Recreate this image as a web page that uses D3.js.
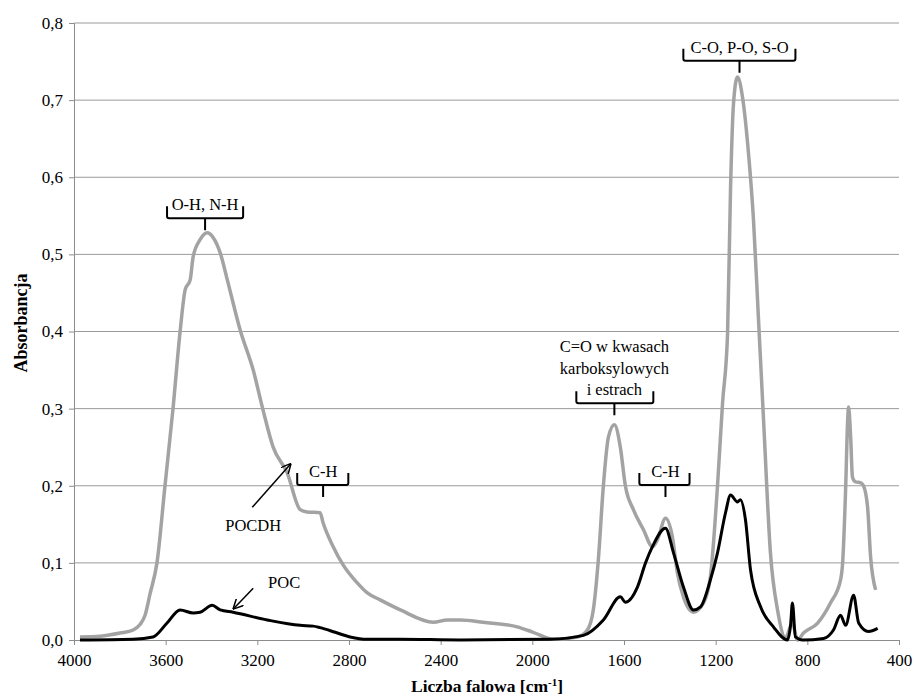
<!doctype html>
<html lang="pl">

<head>
  <meta charset="utf-8">
  <style>
    body { margin: 0; background: #fff; }
    svg text { font-family: "Liberation Serif", "Times New Roman", serif; fill: #000; }
  </style>
</head>

<body>
  <script src="https://d3js.org/d3.v7.min.js"></script>
  <div id="chart"></div>

  <script>
    // POCDH spectrum (grey)
    var pocdhWn = [3974, 3886, 3799, 3742, 3712, 3690, 3668, 3638, 3603, 3568, 3537, 3515, 3493, 3480, 3450,
      3419, 3393, 3362, 3331, 3275, 3218, 3175, 3131, 3070, 3013, 2983, 2926, 2913, 2869, 2825, 2764, 2720,
      2664, 2576, 2432, 2371, 2314, 2214, 2066, 1996, 1908, 1803, 1760, 1734, 1712, 1690, 1668, 1642, 1616,
      1594, 1559, 1515, 1476, 1454, 1419, 1389, 1367, 1341, 1297, 1253, 1223, 1192, 1170, 1148, 1135, 1122,
      1105, 1083, 1057, 1035, 1013, 991, 961, 930, 895, 865, 843, 817, 755, 699, 655, 646, 633, 624, 620, 611,
      603, 590, 568, 555, 537, 524, 502];
    var pocdhAbs = [0.004, 0.005, 0.009, 0.013, 0.02, 0.032, 0.06, 0.1, 0.2, 0.3, 0.4, 0.454, 0.467, 0.497,
      0.519, 0.528, 0.522, 0.502, 0.467, 0.402, 0.35, 0.298, 0.25, 0.217, 0.169, 0.166, 0.165, 0.152, 0.121,
      0.097, 0.074, 0.061, 0.052, 0.039, 0.023, 0.026, 0.026, 0.023, 0.017, 0.01, 0.001, 0.004, 0.013, 0.039,
      0.104, 0.2, 0.263, 0.279, 0.25, 0.2, 0.169, 0.143, 0.121, 0.13, 0.158, 0.134, 0.087, 0.056, 0.036,
      0.048, 0.082, 0.2, 0.307, 0.398, 0.587, 0.696, 0.73, 0.704, 0.632, 0.545, 0.415, 0.285, 0.113, 0.039,
      0.003, 0.022, 0.0, 0.009, 0.022, 0.048, 0.078, 0.1, 0.195, 0.285, 0.302, 0.263, 0.211, 0.205, 0.204,
      0.2, 0.172, 0.108, 0.065];

    // POC spectrum (black)
    var pocWn = [3974, 3742, 3655, 3594, 3537, 3480, 3450, 3397, 3362, 3306, 3157, 3013, 2956, 2926, 2860,
      2795, 2720, 2576, 2314, 1921, 1777, 1690, 1616, 1594, 1541, 1506, 1476, 1419, 1384, 1341, 1297, 1266,
      1223, 1192, 1157, 1135, 1105, 1092, 1070, 1048, 1004, 948, 887, 873, 865, 852, 821, 729, 686, 655, 633,
      598, 576, 533, 493];
    var pocAbs = [0.0, 0.001, 0.004, 0.022, 0.039, 0.035, 0.036, 0.045, 0.039, 0.036, 0.026, 0.019, 0.018,
      0.016, 0.01, 0.004, 0.001, 0.001, 0.0, 0.001, 0.006, 0.026, 0.056, 0.049, 0.069, 0.1, 0.121, 0.145,
      0.113, 0.069, 0.039, 0.043, 0.078, 0.113, 0.165, 0.188, 0.179, 0.182, 0.156, 0.091, 0.043, 0.017, 0.0,
      0.02, 0.048, 0.004, 0.0, 0.002, 0.013, 0.032, 0.019, 0.058, 0.022, 0.011, 0.015];

    var xTicks = [4000, 3600, 3200, 2800, 2400, 2000, 1600, 1200, 800, 400];
    var yTicks = [0, 0.1, 0.2, 0.3, 0.4, 0.5, 0.6, 0.7, 0.8];

    // band brackets: label lines, left / right / centre wavenumber, absorbance of bracket line
    var bands = [
      { lines: ["O-H, N-H"], from: 3594, to: 3262, mid: 3428, y: 0.547 },
      { lines: ["C-H"], from: 3026, to: 2803, mid: 2913, y: 0.201 },
      { lines: ["C=O  w kwasach", "karboksylowych", "i estrach"], from: 1808, to: 1472, mid: 1642, y: 0.307 },
      { lines: ["C-H"], from: 1533, to: 1314, mid: 1419, y: 0.201 },
      { lines: ["C-O, P-O, S-O"], from: 1341, to: 852, mid: 1096, y: 0.751 }
    ];

    var width = 914, height = 697;
    var x = d3.scaleLinear().domain([4000, 400]).range([74, 899]);
    var y = d3.scaleLinear().domain([0, 0.8]).range([640, 23]);
    var comma = function (d) { return d3.format(".1f")(d).replace(".", ","); };

    var svg = d3.select("#chart").append("svg")
      .attr("width", width)
      .attr("height", height);

    // gridlines
    svg.append("g").selectAll("line").data(yTicks.slice(1)).enter()
      .append("line")
      .attr("x1", x(4000)).attr("x2", x(400))
      .attr("y1", d => y(d)).attr("y2", d => y(d))
      .attr("stroke", "#9a9a9a").attr("stroke-width", 1);

    // axes
    var yAxis = svg.append("g")
      .attr("transform", "translate(" + x(4000) + ",0)")
      .call(d3.axisLeft(y).tickValues(yTicks).tickFormat(comma).tickSize(5).tickPadding(6));
    var xAxis = svg.append("g")
      .attr("transform", "translate(0," + y(0) + ")")
      .call(d3.axisBottom(x).tickValues(xTicks).tickFormat(d3.format("d")).tickSize(5).tickPadding(9));
    [xAxis, yAxis].forEach(function (a) {
      a.selectAll("path, line").attr("stroke", "#8c8c8c");
      a.selectAll("text").style("font-family", "Liberation Serif").style("font-size", "17px").attr("fill", "#222");
    });

    // spectra
    var line = d3.line().curve(d3.curveMonotoneX).x(d => x(d[0])).y(d => y(d[1]));
    svg.append("path")
      .datum(d3.zip(pocdhWn, pocdhAbs))
      .attr("d", line)
      .attr("fill", "none")
      .attr("stroke", "#a3a3a3")
      .attr("stroke-width", 3.5)
      .attr("stroke-linejoin", "round");
    svg.append("path")
      .datum(d3.zip(pocWn, pocAbs))
      .attr("d", line)
      .attr("fill", "none")
      .attr("stroke", "#000")
      .attr("stroke-width", 3)
      .attr("stroke-linejoin", "round");

    // brackets over absorption bands
    var brace = function (b) {
      var l = x(b.from), r = x(b.to), m = x(b.mid), h = y(b.y);
      return "M" + l + "," + (h - 12) + " L" + l + "," + (h - 2) + " Q" + l + "," + h + " " + (l + 2) + "," + h +
        " L" + (r - 2) + "," + h + " Q" + r + "," + h + " " + r + "," + (h - 2) + " L" + r + "," + (h - 12) +
        " M" + m + "," + h + " L" + m + "," + (h + 12);
    };
    var band = svg.append("g").selectAll("g").data(bands).enter().append("g");
    band.append("path")
      .attr("d", brace)
      .attr("fill", "none")
      .attr("stroke", "#000")
      .attr("stroke-width", 2);
    band.each(function (b) {
      var g = d3.select(this);
      var n = b.lines.length;
      b.lines.forEach(function (t, i) {
        g.append("text")
          .attr("x", x(b.mid))
          .attr("y", y(b.y) - 8 - (n - 1 - i) * 21.5)
          .attr("text-anchor", "middle")
          .style("font-size", "16.5px")
          .text(t);
      });
    });

    // series labels with arrows
    svg.append("defs").append("marker")
      .attr("id", "head")
      .attr("viewBox", "0 0 10 10")
      .attr("refX", 10).attr("refY", 5)
      .attr("markerWidth", 10).attr("markerHeight", 10)
      .attr("markerUnits", "userSpaceOnUse")
      .attr("orient", "auto")
      .append("path")
      .attr("d", "M0,0 L10,5 L0,10")
      .attr("fill", "none")
      .attr("stroke", "#000")
      .attr("stroke-width", 1.5);

    svg.append("line")
      .attr("x1", x(3222)).attr("y1", y(0.172))
      .attr("x2", x(3053)).attr("y2", y(0.229))
      .attr("stroke", "#000").attr("stroke-width", 1.5)
      .attr("marker-end", "url(#head)");
    svg.append("text")
      .attr("x", x(3218)).attr("y", y(0.141))
      .attr("text-anchor", "middle")
      .style("font-size", "16.5px")
      .text("POCDH");

    svg.append("line")
      .attr("x1", x(3218)).attr("y1", y(0.067))
      .attr("x2", x(3306)).attr("y2", y(0.04))
      .attr("stroke", "#000").attr("stroke-width", 1.5)
      .attr("marker-end", "url(#head)");
    svg.append("text")
      .attr("x", x(3083)).attr("y", y(0.068))
      .attr("text-anchor", "middle")
      .style("font-size", "16.5px")
      .text("POC");

    // axis titles
    svg.append("text")
      .attr("transform", "translate(27,323) rotate(-90)")
      .attr("text-anchor", "middle")
      .style("font-size", "18px")
      .style("font-weight", "bold")
      .text("Absorbancja");
    var xt = svg.append("text")
      .attr("x", 487).attr("y", 692)
      .attr("text-anchor", "middle")
      .style("font-size", "17.5px")
      .style("font-weight", "bold");
    xt.append("tspan").text("Liczba falowa [cm");
    xt.append("tspan").attr("dy", -6).style("font-size", "11px").text("-1");
    xt.append("tspan").attr("dy", 6).text("]");
  </script>
</body>

</html>
